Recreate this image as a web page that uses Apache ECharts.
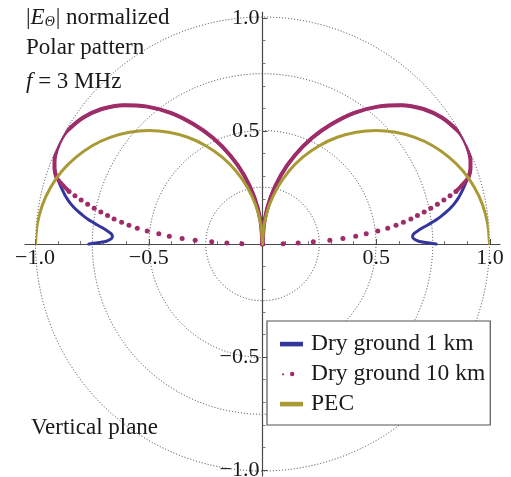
<!DOCTYPE html>
<html>
<head>
<meta charset="utf-8">
<script src="https://cdn.jsdelivr.net/npm/echarts@6/dist/echarts.min.js"></script>
<style>
  html, body { margin: 0; padding: 0; background: #ffffff; }
  #chart { width: 511px; height: 477px; }
</style>
</head>
<body>
<div id="chart"></div>
<script>
// Vertical-plane pattern of |E_theta| (normalized), f = 3 MHz.
// Angles are elevation in degrees above the ground (right half);
// the left half is the mirror image.

// Perfect electric conductor ground
const pecAngles = [0, 5, 10, 15, 20, 25, 30, 35, 40, 45, 50, 55, 60, 65, 70, 75, 80, 85, 90];
const pecRadius = [1.0, 0.996, 0.985, 0.966, 0.94, 0.906, 0.866, 0.819, 0.766, 0.707, 0.643, 0.574, 0.5, 0.423, 0.342, 0.259, 0.174, 0.087, 0];

// Dry ground, observation at 1 km
const km1Angles = [0, 0.5, 1, 2, 3, 4, 5, 6, 7, 8, 9, 10, 11, 12, 13, 14, 16, 18, 20, 22, 25, 28, 30, 35, 40, 45, 50, 55, 60, 65, 70, 75, 80, 85, 90];
const km1Radius = [0.765, 0.72, 0.688, 0.666, 0.662, 0.67, 0.69, 0.715, 0.745, 0.775, 0.8, 0.825, 0.847, 0.866, 0.883, 0.898, 0.925, 0.952, 0.975, 0.988, 0.998, 1.0, 0.995, 0.968, 0.925, 0.865, 0.79, 0.705, 0.61, 0.515, 0.415, 0.315, 0.21, 0.105, 0];

// Dry ground, observation at 10 km: sampled points near the horizon ...
const km10DotAngles = [0, 0.8, 1.6, 2.4, 3.2, 4.0, 4.8, 5.6, 6.4, 7.2, 8.0, 8.8, 9.6, 10.4, 11.2, 12.0, 12.8, 13.6, 14.4, 15.2];
const km10DotRadius = [0, 0.091, 0.157, 0.224, 0.297, 0.355, 0.412, 0.459, 0.511, 0.556, 0.594, 0.628, 0.663, 0.694, 0.726, 0.758, 0.79, 0.822, 0.853, 0.883];
// ... and the main lobe, where the samples run together
const km10LobeAngles = [15.2, 16, 17, 18, 20, 22, 25, 28, 30, 35, 40, 45, 50, 55, 60, 65, 70, 75, 80, 85, 90];
const km10LobeRadius = [0.883, 0.905, 0.932, 0.955, 0.975, 0.988, 0.998, 1.0, 0.995, 0.968, 0.925, 0.865, 0.79, 0.705, 0.61, 0.515, 0.415, 0.315, 0.21, 0.105, 0];

// Axis tick labels
const tickValues = [-1, -0.5, 0.5, 1];
const tickLabels = ['\u22121.0', '\u22120.5', '0.5', '1.0'];

const SERIF = 'Liberation Serif';
const C_1KM = '#35359e';
const C_10KM = '#9e2c68';
const C_PEC = '#a99a36';

// plot box: x in [-1, 1] spans 35..490, y in [-1, 1] spans 18..470
const PLOT = { left: 35, top: 18, width: 455, height: 452 };

function half(angles, radii, mirrored) {
  return angles.map((a, i) => [radii[i], mirrored ? 180 - a : a]);
}
function tickText(v) {
  const k = tickValues.findIndex(t => Math.abs(t - v) < 1e-9);
  return k < 0 ? '' : tickLabels[k];
}

function lineSeries(name, color, width, angles, radii, mirrored, smooth) {
  return {
    name: name, type: 'line', coordinateSystem: 'polar',
    data: half(angles, radii, mirrored),
    showSymbol: false, symbol: 'none', smooth: smooth,
    lineStyle: { color: color, width: width, cap: 'round', join: 'round' },
    itemStyle: { color: color },
    emphasis: { disabled: true }, silent: true, animation: false
  };
}
function dotSeries(name, color, angles, radii, mirrored) {
  return {
    name: name, type: 'scatter', coordinateSystem: 'polar',
    data: half(angles, radii, mirrored),
    symbol: 'circle', symbolSize: 5,
    itemStyle: { color: color, opacity: 1 },
    emphasis: { disabled: true }, silent: true, animation: false
  };
}

const axisColor = '#4a4a4a';
const labelStyle = { fontFamily: SERIF, fontSize: 22, color: '#1a1a1a' };

// legend icons: a thick bar, and a pair of dots
const barIcon = 'path://M0,0L0,0M26,14L26,14M0,4.8H23V9.4H0Z';
const dotIcon = 'path://M0,0L0,0M26,14L26,14M2,7.3a1.1,1.1 0 1,0 2.2,0a1.1,1.1 0 1,0 -2.2,0ZM10,7a2.2,2.2 0 1,0 4.4,0a2.2,2.2 0 1,0 -4.4,0Z';

const titleText = { fontFamily: SERIF, fontSize: 23, fontWeight: 'normal', color: '#1a1a1a' };

const option = {
  backgroundColor: '#ffffff',
  animation: false,
  title: [
    {
      text: '|{e|E}{s|\u0398}| normalized', left: 26, top: 6, padding: 0,
      textStyle: Object.assign({}, titleText, {
        rich: {
          e: { fontFamily: SERIF, fontSize: 23, fontStyle: 'italic', color: '#1a1a1a' },
          s: { fontFamily: SERIF, fontSize: 14, fontStyle: 'italic', color: '#1a1a1a', padding: [9, 1, 0, 0] }
        }
      })
    },
    { text: 'Polar pattern', left: 26, top: 36, padding: 0, textStyle: titleText },
    {
      text: '{i|f} = 3 MHz', left: 26, top: 70, padding: 0,
      textStyle: Object.assign({}, titleText, {
        rich: { i: { fontFamily: SERIF, fontSize: 23, fontStyle: 'italic', color: '#1a1a1a' } }
      })
    },
    { text: 'Vertical plane', left: 31, top: 416, padding: 0, textStyle: titleText }
  ],
  legend: {
    orient: 'vertical', left: 267, top: 321,
    padding: [11, 5, 9, 13], itemGap: 6,
    itemWidth: 26, itemHeight: 14,
    backgroundColor: '#ffffff', borderColor: '#555555', borderWidth: 1.2, borderRadius: 0,
    selectedMode: false,
    itemStyle: { borderWidth: 0 },
    textStyle: { fontFamily: SERIF, fontSize: 23.5, color: '#1a1a1a', lineHeight: 22 },
    data: [
      { name: 'Dry ground 1 km', icon: barIcon },
      { name: 'Dry ground 10 km', icon: dotIcon },
      { name: 'PEC', icon: barIcon }
    ]
  },
  grid: [
    Object.assign({ outerBoundsMode: 'none', containLabel: false }, PLOT),
    { left: 25, top: 12, width: 475, height: 464, outerBoundsMode: 'none', containLabel: false }
  ],
  xAxis: [
    {
      // tick marks and labels, shifted from the bottom edge up to y = 0
      gridIndex: 0, type: 'value', min: -1, max: 1, interval: 0.5,
      position: 'bottom', offset: -PLOT.height / 2,
      axisLine: { show: false, onZero: false },
      axisTick: { show: true, inside: true, length: 5, lineStyle: { color: axisColor } },
      minorTick: { show: true, splitNumber: 5, length: 3, lineStyle: { color: '#777777' } },
      axisLabel: Object.assign({ formatter: tickText, margin: 3, hideOverlap: false }, labelStyle),
      splitLine: { show: false }
    },
    {
      // axis line, running a little past the plotted range
      gridIndex: 1, type: 'value', min: -1, max: 1,
      axisLine: { show: true, onZero: true, lineStyle: { color: axisColor, width: 1.2 } },
      axisTick: { show: false }, axisLabel: { show: false }, splitLine: { show: false }
    }
  ],
  yAxis: [
    {
      gridIndex: 0, type: 'value', min: -1, max: 1, interval: 0.5,
      position: 'left', offset: -PLOT.width / 2,
      axisLine: { show: false, onZero: false },
      axisTick: { show: true, inside: true, length: 5, lineStyle: { color: axisColor } },
      minorTick: { show: true, splitNumber: 5, length: 3, lineStyle: { color: '#777777' } },
      axisLabel: Object.assign({ formatter: tickText, margin: 3, hideOverlap: false }, labelStyle),
      splitLine: { show: false }
    },
    {
      gridIndex: 1, type: 'value', min: -1, max: 1,
      axisLine: { show: true, onZero: true, lineStyle: { color: axisColor, width: 1.2 } },
      axisTick: { show: false }, axisLabel: { show: false }, splitLine: { show: false }
    }
  ],
  polar: { center: [262.5, 244], radius: 227 },
  angleAxis: {
    type: 'value', min: 0, max: 360, startAngle: 0, clockwise: false,
    axisLine: { show: false }, axisTick: { show: false }, axisLabel: { show: false },
    splitLine: { show: false }
  },
  radiusAxis: {
    type: 'value', min: 0, max: 1, interval: 0.25,
    axisLine: { show: false }, axisTick: { show: false }, axisLabel: { show: false },
    splitLine: { show: true, lineStyle: { color: '#3c3c3c', width: 1, type: [1, 2] } }
  },
  series: [
    lineSeries('Dry ground 1 km', C_1KM, 3, km1Angles, km1Radius, false, 0.2),
    lineSeries('Dry ground 1 km', C_1KM, 3, km1Angles, km1Radius, true, 0.2),
    dotSeries('Dry ground 10 km', C_10KM, km10DotAngles, km10DotRadius, false),
    dotSeries('Dry ground 10 km', C_10KM, km10DotAngles, km10DotRadius, true),
    lineSeries('Dry ground 10 km', C_10KM, 4, km10LobeAngles, km10LobeRadius, false, 0.25),
    lineSeries('Dry ground 10 km', C_10KM, 4, km10LobeAngles, km10LobeRadius, true, 0.25),
    lineSeries('PEC', C_PEC, 3, pecAngles, pecRadius, false, 0.25),
    lineSeries('PEC', C_PEC, 3, pecAngles, pecRadius, true, 0.25)
  ]
};

const chart = echarts.init(document.getElementById('chart'), null, { renderer: 'canvas' });
chart.setOption(option);
</script>
</body>
</html>
